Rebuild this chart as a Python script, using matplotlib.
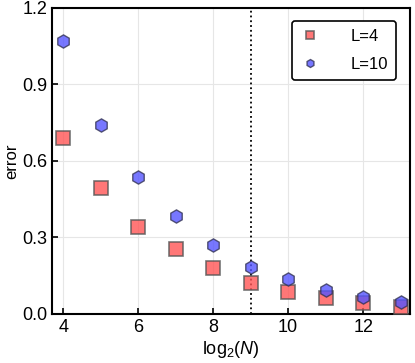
import numpy as np
import matplotlib
matplotlib.use("Agg")
import matplotlib.pyplot as plt

plt.rcParams['font.family'] = ['Liberation Sans', 'DejaVu Sans']
plt.rcParams['mathtext.fontset'] = 'custom'
plt.rcParams['mathtext.rm'] = 'Liberation Sans'
plt.rcParams['mathtext.it'] = 'Liberation Sans:italic'

log2N = [4, 5, 6, 7, 8, 9, 10, 11, 12, 13]
err_L4 = [0.691, 0.494, 0.342, 0.254, 0.179, 0.122, 0.086, 0.061, 0.042, 0.029]
err_L10 = [1.070, 0.740, 0.538, 0.384, 0.272, 0.186, 0.136, 0.094, 0.068, 0.047]
cut_x = 9

fig, ax = plt.subplots(figsize=(4.15, 3.63), dpi=100)
fig.subplots_adjust(left=0.125, right=0.988, top=0.978, bottom=0.135)

ax.plot(log2N, err_L4, 's', ms=10.5, color='#ff5555', alpha=0.8,
        mec='#555555', mew=1.2, label='L=4', zorder=3)
ax.plot(log2N, err_L10, 'h', ms=9.5, color='#5555ff', alpha=0.8,
        mec='#333355', mew=1.0, label='L=10', zorder=3)
ax.axvline(cut_x, color='black', ls=':', lw=1.3, zorder=2)

ax.set_xlim(3.7, 13.25)
ax.set_ylim(0, 1.2)
ax.set_xticks([4, 6, 8, 10, 12])
ax.set_yticks([0.0, 0.3, 0.6, 0.9, 1.2])
ax.set_yticklabels(['0.0', '0.3', '0.6', '0.9', '1.2'])
ax.grid(True, color='#e6e6e6', lw=0.8, zorder=0)
ax.tick_params(direction='in', labelsize=13, length=4, width=1.2)
for s in ax.spines.values():
    s.set_linewidth(1.5)

ax.set_xlabel(r'log$_2$($N$)', fontsize=13, labelpad=2)
ax.set_ylabel('error', fontsize=12, labelpad=2)

leg = ax.legend(loc='upper right', fontsize=12, frameon=True, fancybox=True,
                markerscale=0.6, handlelength=1.2, handletextpad=1.8,
                borderpad=0.5, labelspacing=0.75,
                bbox_to_anchor=(0.985, 0.985))
leg.get_frame().set_edgecolor('black')
leg.get_frame().set_linewidth(1.2)
leg.get_frame().set_alpha(1)

fig.savefig('out.png', dpi=100)
